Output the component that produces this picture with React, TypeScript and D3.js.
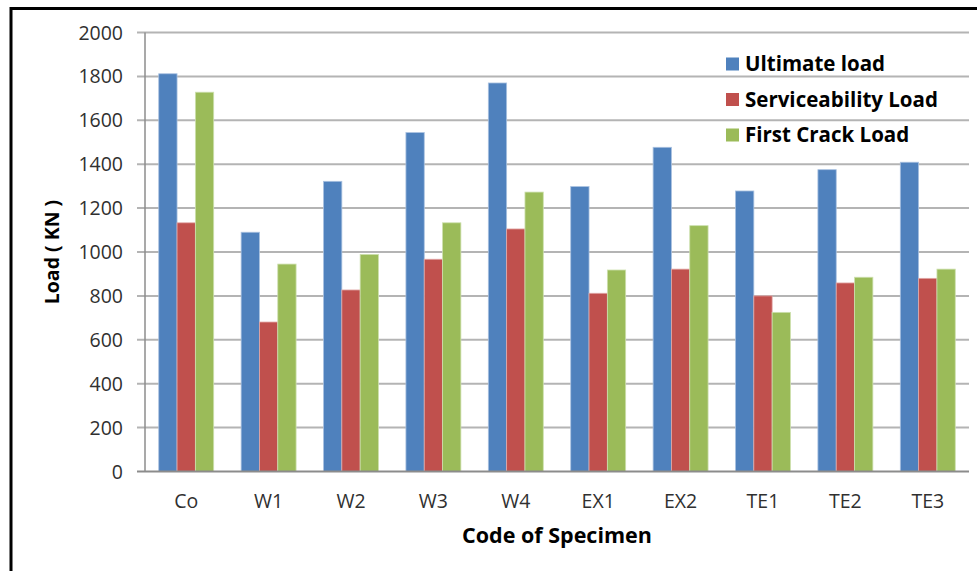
import React, { useEffect, useRef } from 'react';
import * as d3 from 'd3';

const categories = ['Co', 'W1', 'W2', 'W3', 'W4', 'EX1', 'EX2', 'TE1', 'TE2', 'TE3'];
const seriesNames = ['Ultimate load', 'Serviceability Load', 'First Crack Load'];
const ultimateLoad = [1812, 1090, 1322, 1544, 1770, 1298, 1477, 1278, 1375, 1409];
const serviceabilityLoad = [1133, 681, 827, 967, 1105, 812, 922, 800, 859, 880];
const firstCrackLoad = [1728, 945, 989, 1133, 1273, 918, 1120, 725, 885, 922];
const yTicks = [0, 200, 400, 600, 800, 1000, 1200, 1400, 1600, 1800, 2000];
const colors = ['#4F81BD', '#C0504D', '#9BBB59'];
const edgeColors = ['#a9c1e0', '#e2a9a8', '#cde0ae'];

const W = 977;
const H = 571;
const FONT = '"Open Sans", "Liberation Sans", sans-serif';

const App: React.FC = () => {
  const svgRef = useRef<SVGSVGElement>(null);

  useEffect(() => {
    document.body.style.margin = '0';
    if (!svgRef.current) return;
    const svg = d3.select(svgRef.current);
    svg.selectAll('*').remove();

    const margin = { left: 145, right: 8, top: 32.5, bottom: 99.5 };
    const x = d3.scaleBand<string>()
      .domain(categories)
      .range([margin.left, W - margin.right])
      .paddingInner(0.333)
      .paddingOuter(0.1667);
    const series = [ultimateLoad, serviceabilityLoad, firstCrackLoad];
    const xs = d3.scaleBand<number>()
      .domain([0, 1, 2])
      .range([0, x.bandwidth()]);
    const y = d3.scaleLinear().domain([0, 2000]).range([H - margin.bottom, margin.top]);

    svg.append('rect').attr('width', W).attr('height', H).attr('fill', '#fff');

    // grid
    svg.append('g')
      .selectAll('line')
      .data(yTicks.filter(d => d > 0))
      .join('line')
      .attr('x1', margin.left - 8)
      .attr('x2', W - margin.right)
      .attr('y1', d => y(d))
      .attr('y2', d => y(d))
      .attr('stroke', '#b4b4b4')
      .attr('stroke-width', 2);

    // bars
    series.forEach((vals, si) => {
      svg.append('g')
        .selectAll('rect')
        .data(vals)
        .join('rect')
        .attr('x', (_, i) => (x(categories[i]) as number) + (xs(si) as number))
        .attr('y', d => y(d))
        .attr('width', xs.bandwidth())
        .attr('height', d => y(0) - y(d))
        .attr('fill', colors[si])
        .attr('stroke', edgeColors[si])
        .attr('stroke-width', 0.8);
    });

    // axes lines
    svg.append('line')
      .attr('x1', margin.left).attr('x2', margin.left)
      .attr('y1', y(2000)).attr('y2', y(0))
      .attr('stroke', '#8c8c8c').attr('stroke-width', 1.5);
    svg.append('line')
      .attr('x1', margin.left - 8).attr('x2', W - margin.right)
      .attr('y1', y(0)).attr('y2', y(0))
      .attr('stroke', '#8c8c8c').attr('stroke-width', 2);

    // y tick labels
    svg.append('g')
      .selectAll('text')
      .data(yTicks)
      .join('text')
      .attr('x', 123)
      .attr('y', d => y(d))
      .attr('dy', '0.36em')
      .attr('text-anchor', 'end')
      .attr('fill', '#303030')
      .style('font-family', FONT)
      .style('font-size', '19.5px')
      .text(d => String(d));

    // x tick labels
    svg.append('g')
      .selectAll('text')
      .data(categories)
      .join('text')
      .attr('x', d => (x(d) as number) + x.bandwidth() / 2)
      .attr('y', 507.5)
      .attr('text-anchor', 'middle')
      .attr('fill', '#303030')
      .style('font-family', FONT)
      .style('font-size', '19.5px')
      .text(d => d);

    // axis titles
    svg.append('text')
      .attr('x', (margin.left + W - margin.right) / 2)
      .attr('y', 543)
      .attr('text-anchor', 'middle')
      .attr('fill', '#000')
      .style('font-family', FONT)
      .style('font-weight', 'bold')
      .style('font-size', '21.5px')
      .text('Code of Specimen');

    svg.append('text')
      .attr('transform', `translate(58.5,${y(1000)}) rotate(-90)`)
      .attr('text-anchor', 'middle')
      .attr('fill', '#000')
      .style('font-family', FONT)
      .style('font-weight', 'bold')
      .style('font-size', '19.5px')
      .text('Load ( KN )');

    // legend
    const legend = svg.append('g').attr('transform', 'translate(726,64)');
    seriesNames.forEach((name, i) => {
      const row = legend.append('g').attr('transform', `translate(0,${i * 35.5})`);
      row.append('rect')
        .attr('x', 0).attr('y', -6.5)
        .attr('width', 13).attr('height', 13)
        .attr('fill', colors[i]);
      row.append('text')
        .attr('x', 19)
        .attr('y', 0)
        .attr('dy', '0.36em')
        .attr('fill', '#000')
        .style('font-family', FONT)
        .style('font-weight', 'bold')
        .style('font-size', '20.5px')
        .text(name);
    });

    // outer frame
    svg.append('path')
      .attr('d', `M11,${H + 5} L11,8.5 L${W + 5},8.5`)
      .attr('fill', 'none')
      .attr('stroke', '#000')
      .attr('stroke-width', 3);
  }, []);

  return <svg ref={svgRef} width={W} height={H} style={{ display: 'block' }} />;
};

export default App;
